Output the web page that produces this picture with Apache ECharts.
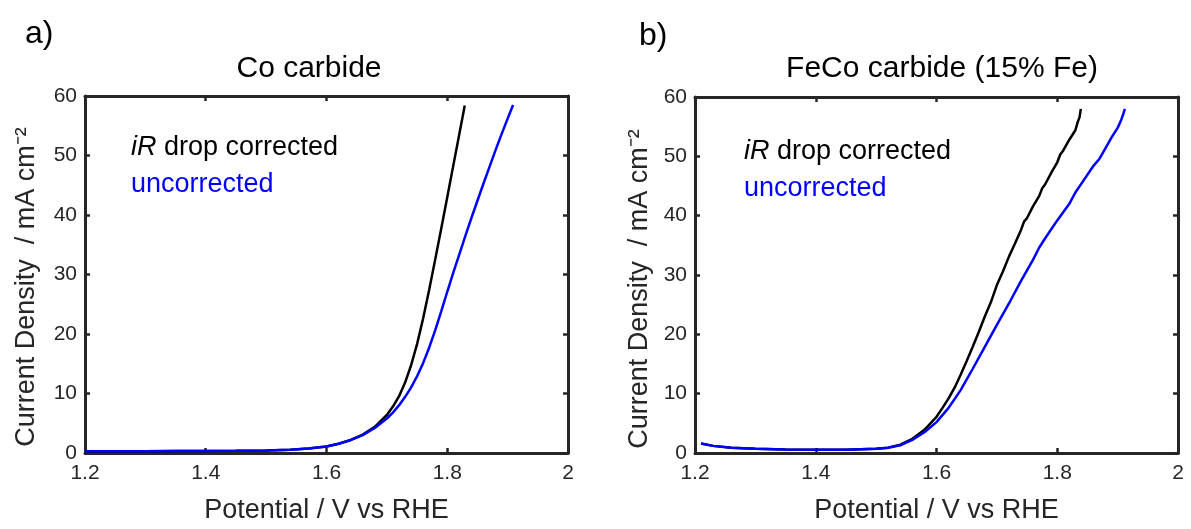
<!DOCTYPE html>
<html>
<head>
<meta charset="utf-8">
<script src="https://cdn.jsdelivr.net/npm/echarts@6/dist/echarts.min.js"></script>
<style>
  html, body { margin: 0; padding: 0; background: #fff; }
  #chart { width: 1191px; height: 529px; }
</style>
</head>
<body>
<div id="chart"></div>
<script>
// Polarisation curves (current density vs potential), two catalysts.
const xTicks = [1.2, 1.4, 1.6, 1.8, 2.0];
const yTicks = [0, 10, 20, 30, 40, 50, 60];

const panelLetters = ['a)', 'b)'];
const panelTitles = ['Co carbide', 'FeCo carbide (15% Fe)'];
const seriesNames = ['iR drop corrected', 'uncorrected'];
const xAxisTitle = 'Potential / V vs RHE';
const yAxisTitle = 'Current Density  / mA cm\u207B\u00B2';

// Co carbide, iR drop corrected
const coCorrV = [1.20, 1.25, 1.30, 1.35, 1.40, 1.45, 1.50, 1.54, 1.57, 1.60, 1.62, 1.64, 1.66, 1.68, 1.70, 1.71, 1.72, 1.73, 1.74, 1.75, 1.76, 1.77, 1.78, 1.79, 1.80, 1.81, 1.82, 1.829];
const coCorrJ = [0.30, 0.30, 0.30, 0.32, 0.33, 0.36, 0.42, 0.55, 0.75, 1.10, 1.55, 2.20, 3.10, 4.40, 6.40, 7.80, 9.50, 11.8, 14.7, 18.3, 22.6, 27.4, 32.5, 37.7, 43.0, 48.3, 53.6, 58.4];
// Co carbide, uncorrected
const coUncV = [1.20, 1.25, 1.30, 1.35, 1.40, 1.45, 1.50, 1.54, 1.57, 1.60, 1.62, 1.64, 1.66, 1.68, 1.70, 1.71, 1.72, 1.73, 1.74, 1.75, 1.76, 1.77, 1.78, 1.79, 1.80, 1.81, 1.82, 1.83, 1.84, 1.85, 1.86, 1.87, 1.88, 1.89, 1.90, 1.909];
const coUncJ = [0.30, 0.30, 0.30, 0.32, 0.33, 0.36, 0.42, 0.55, 0.75, 1.10, 1.55, 2.15, 3.00, 4.20, 5.80, 6.80, 8.00, 9.40, 11.0, 12.9, 15.1, 17.7, 20.6, 23.8, 27.1, 30.3, 33.4, 36.5, 39.5, 42.4, 45.3, 48.1, 50.9, 53.6, 56.2, 58.5];

// FeCo carbide (15% Fe), iR drop corrected
const fecoCorrV = [1.21, 1.23, 1.26, 1.30, 1.35, 1.40, 1.45, 1.50, 1.52, 1.54, 1.56, 1.58, 1.60, 1.61, 1.62, 1.63, 1.64, 1.65, 1.66, 1.67, 1.68, 1.69, 1.70, 1.71, 1.72, 1.73, 1.74, 1.745, 1.75, 1.76, 1.77, 1.775, 1.78, 1.79, 1.80, 1.805, 1.81, 1.82, 1.83, 1.834, 1.837, 1.839];
const fecoCorrJ = [1.6, 1.2, 0.9, 0.7, 0.6, 0.55, 0.55, 0.7, 0.9, 1.4, 2.4, 3.9, 6.1, 7.6, 9.2, 11.0, 13.2, 15.5, 17.9, 20.4, 23.0, 25.4, 28.3, 30.6, 33.1, 35.3, 37.6, 39.0, 39.6, 41.6, 43.3, 44.6, 45.3, 47.2, 49.0, 50.3, 51.0, 52.8, 54.4, 55.8, 56.6, 58.0];
// FeCo carbide (15% Fe), uncorrected
const fecoUncV = [1.21, 1.23, 1.26, 1.30, 1.35, 1.40, 1.45, 1.50, 1.52, 1.54, 1.56, 1.58, 1.60, 1.62, 1.64, 1.66, 1.68, 1.70, 1.72, 1.74, 1.76, 1.77, 1.78, 1.80, 1.82, 1.83, 1.84, 1.86, 1.87, 1.88, 1.89, 1.90, 1.905, 1.909, 1.912];
const fecoUncJ = [1.6, 1.2, 0.9, 0.7, 0.6, 0.55, 0.55, 0.7, 0.9, 1.3, 2.2, 3.5, 5.2, 7.6, 10.6, 14.2, 17.9, 21.6, 25.2, 29.0, 32.6, 34.6, 36.2, 39.2, 42.0, 43.9, 45.4, 48.4, 49.6, 51.4, 53.2, 54.8, 55.9, 57.0, 58.0];

const FONT = '"Liberation Sans", Arial, Helvetica, sans-serif';
const AXIS_COLOR = '#262626';
const LINE_BLACK = '#000000';
const LINE_BLUE = '#0000ff';

const pairs = (xs, ys) => xs.map((x, i) => [x, ys[i]]);

const grids = [
  { left: 85, right: 623, top: 96, bottom: 72 },
  { left: 695, right: 13, top: 97, bottom: 70 }
];

const xMin = xTicks[0], xMax = xTicks[xTicks.length - 1], xStep = xTicks[1] - xTicks[0];
const yMin = yTicks[0], yMax = yTicks[yTicks.length - 1], yStep = yTicks[1] - yTicks[0];

const xAxes = [], yAxes = [];
grids.forEach((g, gi) => {
  // bottom (labelled) and top (frame) x axes
  ['bottom', 'top'].forEach(pos => {
    xAxes.push({
      type: 'value', gridIndex: gi, position: pos,
      min: xMin, max: xMax, interval: xStep,
      name: pos === 'bottom' ? xAxisTitle : '',
      nameLocation: 'middle', nameGap: 44,
      nameTextStyle: { fontFamily: FONT, fontSize: 27, color: AXIS_COLOR },
      axisLine: { show: true, onZero: false, lineStyle: { color: AXIS_COLOR, width: 3 } },
      axisTick: { show: true, inside: true, length: 5, lineStyle: { color: AXIS_COLOR, width: 2.5 } },
      axisLabel: {
        show: pos === 'bottom', margin: 10,
        fontFamily: FONT, fontSize: 21, color: AXIS_COLOR,
        formatter: v => String(Math.round(v * 10) / 10)
      },
      splitLine: { show: false }
    });
  });
  // left (labelled) and right (frame) y axes
  ['left', 'right'].forEach(pos => {
    yAxes.push({
      type: 'value', gridIndex: gi, position: pos,
      min: yMin, max: yMax, interval: yStep,
      axisLine: { show: true, onZero: false, lineStyle: { color: AXIS_COLOR, width: 3 } },
      axisTick: { show: true, inside: true, length: 5, lineStyle: { color: AXIS_COLOR, width: 2.5 } },
      axisLabel: { show: pos === 'left', margin: 8, fontFamily: FONT, fontSize: 21, color: AXIS_COLOR },
      splitLine: { show: false }
    });
  });
});

const panelData = [
  [pairs(coCorrV, coCorrJ), pairs(coUncV, coUncJ)],
  [pairs(fecoCorrV, fecoCorrJ), pairs(fecoUncV, fecoUncJ)]
];
const colors = [LINE_BLACK, LINE_BLUE];

const series = [];
panelData.forEach((pd, gi) => {
  pd.forEach((d, si) => {
    series.push({
      type: 'line', name: seriesNames[si],
      xAxisIndex: gi * 2, yAxisIndex: gi * 2,
      data: d, showSymbol: false, symbol: 'none',
      lineStyle: { color: colors[si], width: 2.5 },
      itemStyle: { color: colors[si] },
      z: si === 0 ? 2 : 3
    });
  });
});

const legendPos = [ { left: 121, top: 129 }, { left: 734, top: 133 } ];
const legends = legendPos.map(p => ({
  left: p.left, top: p.top, orient: 'vertical',
  icon: 'none', itemWidth: 0, itemHeight: 0, itemGap: 10,
  selectedMode: false,
  formatter: name => name === seriesNames[0] ? '{i|iR} drop corrected' : name,
  textStyle: { fontFamily: FONT, fontSize: 27 },
  data: seriesNames.map((n, i) => ({
    name: n,
    textStyle: {
      color: colors[i], fontFamily: FONT, fontSize: 27,
      rich: { i: { fontStyle: 'italic', color: colors[i], fontFamily: FONT, fontSize: 27 } }
    }
  }))
}));

const titleCenters = [304, 937];
const titles = panelTitles.map((t, gi) => ({
  text: t, left: titleCenters[gi], top: 49, textAlign: 'center',
  textStyle: { fontFamily: FONT, fontSize: 30, fontWeight: 'normal', color: '#000' }
}));
titles.push({ text: panelLetters[0], left: 20, top: 13,
  textStyle: { fontFamily: FONT, fontSize: 32, fontWeight: 'normal', color: '#000' } });
titles.push({ text: panelLetters[1], left: 634, top: 15,
  textStyle: { fontFamily: FONT, fontSize: 32, fontWeight: 'normal', color: '#000' } });

// vertical axis titles, drawn rotated beside each panel
const yTitleCenters = [[27, 287], [640, 289]];
const graphics = yTitleCenters.map(([cx, cy]) => ({
  type: 'text', x: cx, y: cy, rotation: Math.PI / 2,
  style: {
    text: yAxisTitle, fontFamily: FONT, fontSize: 27, fill: AXIS_COLOR,
    align: 'center', verticalAlign: 'middle',
    textAlign: 'center', textVerticalAlign: 'middle'
  }
}));

const chart = echarts.init(document.getElementById('chart'), null, { renderer: 'canvas' });
chart.setOption({
  animation: false,
  backgroundColor: '#ffffff',
  title: titles,
  legend: legends,
  grid: grids,
  xAxis: xAxes,
  yAxis: yAxes,
  graphic: graphics,
  series: series
});
</script>
</body>
</html>
